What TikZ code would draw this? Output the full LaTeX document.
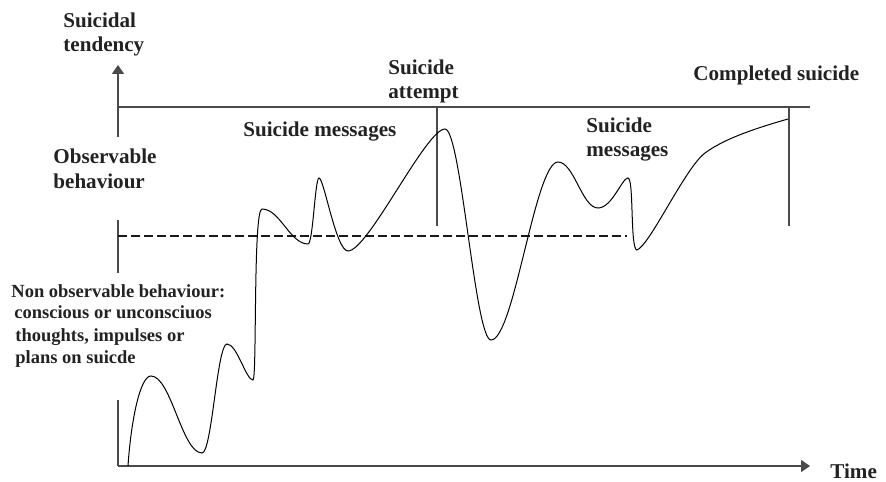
\documentclass[tikz,border=0pt]{standalone}
\usepackage{fontspec}
\setmainfont{Liberation Serif}
\usetikzlibrary{arrows.meta}
\definecolor{axisgray}{HTML}{4A4A4A}
\definecolor{txt}{HTML}{222222}
\tikzset{
  lbl/.style={anchor=base west, inner sep=0pt, text=txt, font=\fontsize{10.55}{12}\selectfont\bfseries},
  lblsm/.style={anchor=base west, inner sep=0pt, text=txt, font=\fontsize{9.25}{11}\selectfont\bfseries},
  axis/.style={draw=axisgray, line width=0.9pt},
  thinline/.style={draw=axisgray, line width=0.6pt},
  dashline/.style={draw=black!90, line width=1.2pt, dash pattern=on 4.5pt off 2pt},
  curve/.style={draw=black, line width=0.5pt},
  tip/.style={-{Triangle[length=4.5pt,width=6pt]}}
}
\begin{document}
\begin{tikzpicture}[x=0.5pt,y=0.5pt]
\useasboundingbox (0,0) rectangle (886,481);
% axes
\coordinate (O) at (118,15);
\coordinate (xend) at (810,15);
\coordinate (ylow) at (118,81);
\coordinate (ymidA) at (118,208);
\coordinate (ymidB) at (118,261);
\coordinate (ytopA) at (118,344);
\coordinate (ytip) at (118,416);
\coordinate (topL) at (118,374);
\coordinate (topR) at (810,374);
\coordinate (dashL) at (118,245);
\coordinate (dashR) at (627,245);
\coordinate (attT) at (437,374);
\coordinate (attB) at (437,255);
\coordinate (compT) at (789,374);
\coordinate (compB) at (789,255);

\draw[axis,tip] (O) -- (xend);
\draw[axis] (O) -- (ylow);
\draw[axis] (ymidA) -- (ymidB);
\draw[axis,tip] (ytopA) -- (ytip);
\draw[thinline] (topL) -- (topR);
\draw[thinline] (attT) -- (attB);
\draw[thinline] (compT) -- (compB);
\draw[dashline] (dashL) -- (dashR);

% curve
\draw[curve] (128,15)
  .. controls (131,60) and (140,105) .. (151,105)
  .. controls (171,105) and (182,28) .. (202,28)
  .. controls (212,28) and (217,137) .. (227,137)
  .. controls (237,137) and (246,101) .. (253,101)
  .. controls (257,101) and (253,272) .. (262,272)
  .. controls (280,272) and (290,237) .. (308,237)
  .. controls (313,237) and (315,303) .. (319,303)
  .. controls (324,303) and (336,230) .. (348,230)
  .. controls (368,230) and (426,352) .. (445,352)
  .. controls (461,352) and (475,141) .. (491,141)
  .. controls (514,141) and (535,319) .. (558,319)
  .. controls (574,319) and (582,273) .. (598,273)
  .. controls (612,273) and (622,303) .. (628,303)
  .. controls (634,303) and (630,231) .. (637,231)
  .. controls (650,236) and (685,313) .. (705,328)
  .. controls (725,343) and (760,354) .. (788,362);

% labels
\node[lbl] (st1) at (63,453) {Suicidal};
\node[lbl] (st2) at (63,429) {tendency};
\node[lbl] (ob1) at (53,317) {Observable};
\node[lbl] (ob2) at (53,292) {behaviour};
\node[lbl] (sm1) at (243,344) {Suicide messages};
\node[lbl] (sa1) at (388,406) {Suicide};
\node[lbl] (sa2) at (388,382) {attempt};
\node[lbl] (cs) at (693,400) {Completed suicide};
\node[lbl] (sm2a) at (586,348) {Suicide};
\node[lbl] (sm2b) at (586,324) {messages};
\node[lbl] (time) at (830,3) {Time};
\node[lblsm] (nb1) at (11,183) {Non observable behaviour:};
\node[lblsm] (nb2) at (14,162) {conscious or unconsciuos};
\node[lblsm] (nb3) at (15,139) {thoughts, impulses or};
\node[lblsm] (nb4) at (15,118) {plans on suicde};
\end{tikzpicture}
\end{document}
